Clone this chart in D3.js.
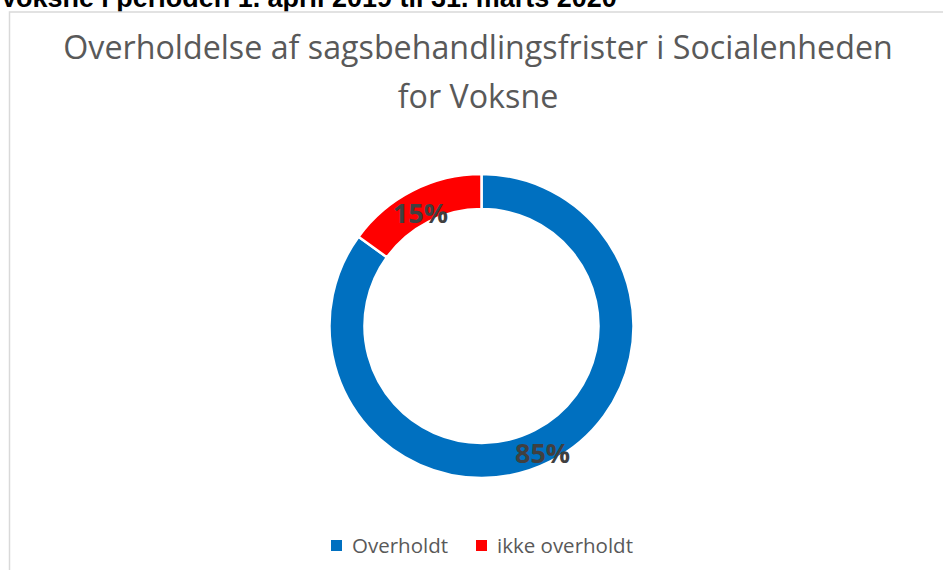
<!DOCTYPE html>
<html>
<head>
<meta charset="utf-8">
<script src="https://cdn.jsdelivr.net/npm/d3@7"></script>
<style>
  body { margin: 0; background: #fff; }
  svg { display: block; }
</style>
</head>
<body>
<svg id="chart" width="943" height="570"></svg>
<script>
// data
const categories = ["Overholdt", "ikke overholdt"];
const values = [85, 15];
const colors = ["#0070C0", "#FF0000"];
const titleLines = ["Overholdelse af sagsbehandlingsfrister i Socialenheden", "for Voksne"];
const headerText = "Voksne i perioden 1. april 2019 til 31. marts 2020";

const width = 943, height = 570;
const svg = d3.select("#chart");

// scale a text's font so it takes the given width
function fitWidth(sel, base, target) {
  const w = sel.node().getComputedTextLength();
  const fs = base * target / w;
  sel.style("font-size", fs + "px");
  return fs;
}

// header text above the chart (cut off at the top)
const header = svg.append("text")
  .attr("x", 0)
  .attr("y", 7)
  .style("font-family", "Liberation Sans, Arial, sans-serif")
  .style("font-weight", "bold")
  .style("font-size", "21px")
  .style("fill", "#000")
  .text(headerText);
fitWidth(header, 21, 617);

// chart frame
svg.append("rect")
  .attr("x", 9.5)
  .attr("y", 12)
  .attr("width", 960)
  .attr("height", 600)
  .attr("fill", "#fff")
  .attr("stroke", "#d9d9d9")
  .attr("stroke-width", 1.5);

// title
const title = svg.append("g").attr("class", "title");
title.selectAll("text")
  .data(titleLines)
  .enter().append("text")
  .attr("x", 478)
  .attr("y", (d, i) => 59 + i * 49)
  .attr("text-anchor", "middle")
  .style("font-family", "Open Sans, sans-serif")
  .style("font-size", "30px")
  .style("fill", "#595959")
  .text(d => d);

// fit title width to the original
const fs = fitWidth(title.select("text"), 30, 830);
title.selectAll("text").style("font-size", fs + "px");

// donut
const cx = 481.5, cy = 326, outerR = 152, innerR = 117;
const data = categories.map((c, i) => ({ name: c, value: values[i], color: colors[i] }));

const pie = d3.pie()
  .value(d => d.value)
  .sort(null)
  .startAngle(0)
  .endAngle(2 * Math.PI);

const arc = d3.arc().innerRadius(innerR).outerRadius(outerR);
const labelArc = d3.arc().innerRadius((innerR + outerR) / 2).outerRadius((innerR + outerR) / 2);

const donut = svg.append("g").attr("transform", `translate(${cx},${cy})`);

donut.selectAll("path")
  .data(pie(data))
  .enter().append("path")
  .attr("d", arc)
  .attr("fill", d => d.data.color)
  .attr("stroke", "#fff")
  .attr("stroke-width", 2.5);

const total = d3.sum(values);
donut.selectAll("text.lbl")
  .data(pie(data))
  .enter().append("text")
  .attr("class", "lbl")
  .attr("transform", d => `translate(${labelArc.centroid(d)})`)
  .attr("dy", "0.62em")
  .attr("text-anchor", "middle")
  .style("font-family", "Open Sans, sans-serif")
  .style("font-weight", "bold")
  .style("font-size", "27px")
  .style("fill", "#404040")
  .text(d => d3.format(".0%")(d.data.value / total));

// legend
const legend = svg.append("g").attr("class", "legend");
const legendX = [331, 476];
const items = legend.selectAll("g")
  .data(data)
  .enter().append("g")
  .attr("transform", (d, i) => `translate(${legendX[i]},540)`);

items.append("rect")
  .attr("width", 11)
  .attr("height", 11)
  .attr("fill", d => d.color);

items.append("text")
  .attr("x", 21)
  .attr("y", 12.5)
  .style("font-family", "Open Sans, sans-serif")
  .style("font-size", "20.5px")
  .style("fill", "#595959")
  .text(d => d.name);
</script>
</body>
</html>
